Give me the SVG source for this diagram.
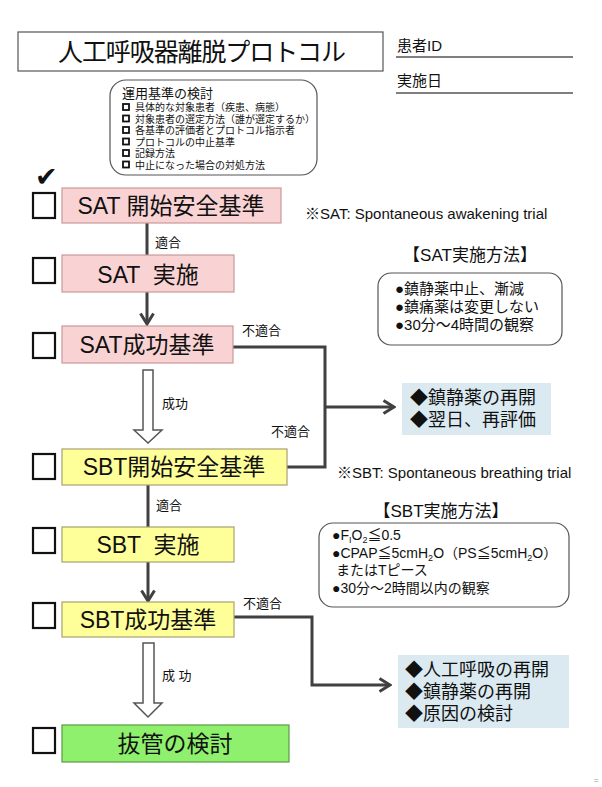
<svg xmlns="http://www.w3.org/2000/svg" width="602" height="787" viewBox="0 0 602 787">
<defs>
<style>
text{font-family:"Liberation Sans","Noto Sans CJK JP",sans-serif;fill:#111}
.cb{fill:#fff;stroke:#111;stroke-width:2.2}
.pink{fill:#f9d3d3;stroke:#c99a9a;stroke-width:1.2}
.yel{fill:#ffff99;stroke:#a8a070;stroke-width:1.2}
.grn{fill:#8ef06c;stroke:#5a9a45;stroke-width:1.2}
.blue{fill:#dbeaf1;stroke:none}
.rbox{fill:#fff;stroke:#555;stroke-width:1.2}
.big{font-size:23px;text-anchor:middle}
.lab{font-size:13px}
.conn{fill:none;stroke:#404040;stroke-width:3}
.hollow{fill:#fff;stroke:#555;stroke-width:1.5}
.item{font-size:10px}
.bul{fill:#fff;stroke:#111;stroke-width:1.8}
</style>
<marker id="ah" viewBox="0 0 14 16" refX="12" refY="8" markerWidth="14" markerHeight="16" orient="auto" markerUnits="userSpaceOnUse">
<path d="M1.5,1.5 L12,8 L1.5,14.5" fill="none" stroke="#404040" stroke-width="3"/>
</marker>
</defs>
<rect width="602" height="787" fill="#fff"/>

<g id="title">
<rect x="18" y="32" width="365" height="39" fill="#fff" stroke="#555" stroke-width="1.2"/>
<text x="202" y="61" font-size="25" text-anchor="middle" textLength="288" lengthAdjust="spacing">人工呼吸器離脱プロトコル</text>
</g>

<g id="patient">
<text x="397" y="51" font-size="15">患者ID</text>
<line x1="396" y1="57" x2="573" y2="57" stroke="#555" stroke-width="1.5"/>
<text x="397" y="86" font-size="15">実施日</text>
<line x1="396" y1="93" x2="573" y2="93" stroke="#555" stroke-width="1.5"/>
</g>

<g id="criteria">
<rect class="rbox" x="110" y="80" width="207" height="95" rx="16"/>
<text x="122" y="98" font-size="13">運用基準の検討</text>
<rect class="bul" x="123" y="104" width="6" height="6"/>
<text class="item" x="135" y="111">具体的な対象患者（疾患、病態）</text>
<rect class="bul" x="123" y="115.5" width="6" height="6"/>
<text class="item" x="135" y="122.5">対象患者の選定方法（誰が選定するか）</text>
<rect class="bul" x="123" y="127" width="6" height="6"/>
<text class="item" x="135" y="134">各基準の評価者とプロトコル指示者</text>
<rect class="bul" x="123" y="138.5" width="6" height="6"/>
<text class="item" x="135" y="145.5">プロトコルの中止基準</text>
<rect class="bul" x="123" y="150" width="6" height="6"/>
<text class="item" x="135" y="157">記録方法</text>
<rect class="bul" x="123" y="161.5" width="6" height="6"/>
<text class="item" x="135" y="168.5">中止になった場合の対処方法</text>
</g>

<g id="check">
<text x="35" y="186" font-size="27" font-family="DejaVu Sans">✔</text>
</g>

<g id="connectors">
<line class="conn" x1="147" y1="223" x2="147" y2="255"/>
<line class="conn" x1="147" y1="292" x2="147" y2="324" marker-end="url(#ah)"/>
<path class="conn" d="M232,347 H325 V467 H287"/>
<path class="conn" d="M325,407 H394" marker-end="url(#ah)"/>
<line class="conn" x1="148" y1="485" x2="148" y2="527"/>
<line class="conn" x1="148" y1="562" x2="148" y2="601" marker-end="url(#ah)"/>
<path class="conn" d="M234,617 H312 V685 H390" marker-end="url(#ah)"/>
<path class="hollow" d="M143,370 H153 V430 H162 L148,443 L134,430 H143 Z"/>
<path class="hollow" d="M143,643 H154 V703 H162 L148,717 L134,703 H143 Z"/>
<text class="lab" x="155" y="247">適合</text>
<text class="lab" x="242" y="335">不適合</text>
<text class="lab" x="162" y="408">成功</text>
<text class="lab" x="271" y="436">不適合</text>
<text class="lab" x="156" y="510">適合</text>
<text class="lab" x="243" y="608">不適合</text>
<text class="lab" x="162" y="680" xml:space="preserve">成 功</text>
</g>

<g id="sat-start">
<rect class="cb" x="33" y="193" width="22" height="25"/>
<rect class="pink" x="62" y="188" width="219" height="35"/>
<text class="big" x="171" y="214">SAT 開始安全基準</text>
</g>

<g id="sat-do">
<rect class="cb" x="33" y="258" width="22" height="25"/>
<rect class="pink" x="62" y="255" width="172" height="37"/>
<text class="big" x="148" y="283" xml:space="preserve">SAT  実施</text>
</g>

<g id="sat-success">
<rect class="cb" x="33" y="333" width="22" height="25"/>
<rect class="pink" x="62" y="326" width="171" height="37"/>
<text class="big" x="147" y="353">SAT成功基準</text>
</g>

<g id="sbt-start">
<rect class="cb" x="33" y="454" width="22" height="25"/>
<rect class="yel" x="62" y="449" width="225" height="36"/>
<text class="big" x="174" y="475">SBT開始安全基準</text>
</g>

<g id="sbt-do">
<rect class="cb" x="33" y="528" width="22" height="25"/>
<rect class="yel" x="62" y="527" width="172" height="35"/>
<text class="big" x="148" y="553" xml:space="preserve">SBT  実施</text>
</g>

<g id="sbt-success">
<rect class="cb" x="33" y="603" width="22" height="25"/>
<rect class="yel" x="62" y="602" width="172" height="35"/>
<text class="big" x="148" y="628">SBT成功基準</text>
</g>

<g id="extubation">
<rect class="cb" x="33" y="728" width="22" height="25"/>
<rect class="grn" x="62" y="725" width="227" height="37"/>
<text class="big" x="175" y="752" font-size="24">抜管の検討</text>
</g>

<g id="sat-note">
<text x="305" y="219" font-size="15">※SAT: Spontaneous awakening trial</text>
</g>

<g id="sat-method">
<text x="470" y="261" font-size="17" text-anchor="middle">【SAT実施方法】</text>
<rect class="rbox" x="378" y="273" width="184" height="72" rx="13"/>
<text x="395" y="294" font-size="15">●鎮静薬中止、漸減</text>
<text x="395" y="312" font-size="15">●鎮痛薬は変更しない</text>
<text x="395" y="330" font-size="15">●30分～4時間の観察</text>
</g>

<g id="result1">
<rect class="blue" x="402" y="383" width="149" height="52"/>
<text x="410" y="404" font-size="18">◆鎮静薬の再開</text>
<text x="410" y="426" font-size="18">◆翌日、再評価</text>
</g>

<g id="sbt-note">
<text x="337" y="478" font-size="15">※SBT: Spontaneous breathing trial</text>
</g>

<g id="sbt-method">
<text x="441" y="517" font-size="17" text-anchor="middle">【SBT実施方法】</text>
<rect class="rbox" x="319" y="523" width="250" height="84" rx="14"/>
<text x="332" y="540" font-size="14">●F<tspan font-size="9" dy="3">I</tspan><tspan dy="-3">O</tspan><tspan font-size="9" dy="3">2</tspan><tspan dy="-3">≦0.5</tspan></text>
<text x="332" y="558" font-size="14">●CPAP≦5cmH<tspan font-size="9" dy="3">2</tspan><tspan dy="-3">O（PS≦5cmH</tspan><tspan font-size="9" dy="3">2</tspan><tspan dy="-3">O）</tspan></text>
<text x="336" y="575" font-size="14">またはTピース</text>
<text x="332" y="593" font-size="14">●30分～2時間以内の観察</text>
</g>

<g id="result2">
<rect class="blue" x="398" y="655" width="171" height="73"/>
<text x="405" y="676" font-size="18">◆人工呼吸の再開</text>
<text x="405" y="698" font-size="18">◆鎮静薬の再開</text>
<text x="405" y="720" font-size="18">◆原因の検討</text>
</g>

<text x="594" y="783" font-size="8" style="fill:#999">=</text>
</svg>
